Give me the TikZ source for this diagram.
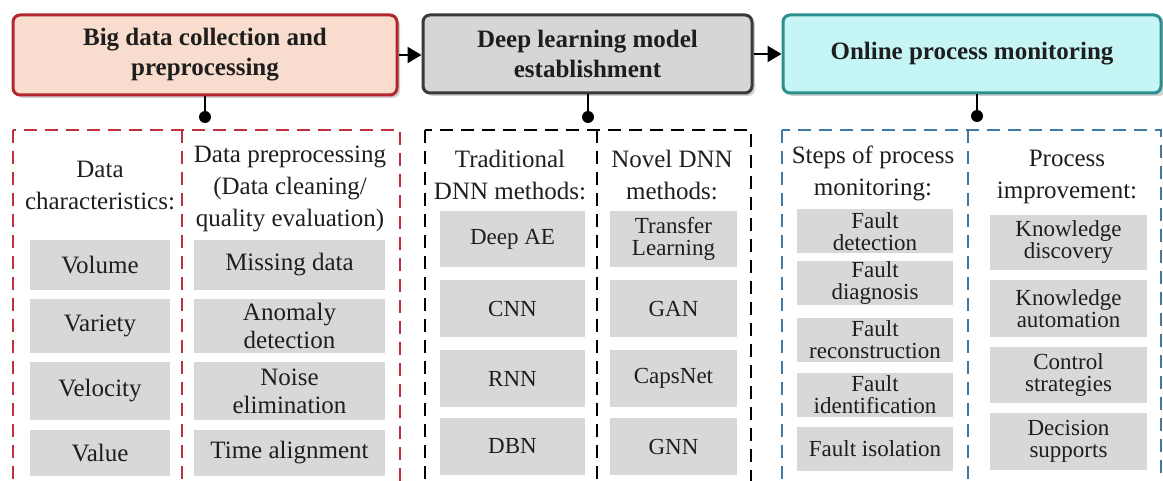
\documentclass[tikz,border=0pt]{standalone}
\usepackage{fontspec}
\setmainfont{Liberation Serif}
\usetikzlibrary{arrows.meta}
\definecolor{redb}{HTML}{B3262D}
\definecolor{redf}{HTML}{F8DCCD}
\definecolor{grayb}{HTML}{3A3A3A}
\definecolor{grayf}{HTML}{D6D6D6}
\definecolor{cyanb}{HTML}{2A8F8F}
\definecolor{cyanf}{HTML}{C6F5F5}
\definecolor{redd}{HTML}{C0303C}
\definecolor{blued}{HTML}{3F7AA6}
\definecolor{itemf}{HTML}{D8D8D8}
\definecolor{txt}{HTML}{1E1E1E}
\begin{document}
\begin{tikzpicture}[x=1pt,y=-1pt,
  title/.style={rounded corners=7pt, line width=3pt, inner sep=0pt, align=center, text=txt,
    font=\fontsize{25}{30}\selectfont\bfseries},
  shade/.style={rounded corners=7pt, fill=black, opacity=0.18},
  head/.style={inner sep=0pt, align=center, text=txt, font=\fontsize{25}{32}\selectfont},
  itemA/.style={fill=itemf, inner sep=0pt, align=center, text=txt, font=\fontsize{25}{28}\selectfont},
  itemB/.style={fill=itemf, inner sep=0pt, align=center, text=txt, font=\fontsize{23}{22}\selectfont},
  dashbox/.style={line width=2.5pt, dash pattern=on 13pt off 8pt},
  link/.style={line width=2.5pt, -{Triangle[length=14pt,width=16pt]}},
  stem/.style={line width=2pt}
]
\useasboundingbox (0,0) rectangle (1163,481);
\clip (0,0) rectangle (1163,481);

% shadows
\fill[shade] (16,18) rectangle (400,98);
\fill[shade] (426,18) rectangle (755,96);
\fill[shade] (786,18) rectangle (1166,96);

% title boxes
\node[title, draw=redb, fill=redf, minimum width=384pt, minimum height=80pt] (t1) at (205,55) {Big data collection and\\preprocessing};
\node[title, draw=grayb, fill=grayf, minimum width=329pt, minimum height=78pt] (t2) at (587.5,54) {Deep learning model\\establishment};
\node[title, draw=cyanb, fill=cyanf, minimum width=378pt, minimum height=78pt] (t3) at (972,54) {Online process monitoring};

\draw[link] (t1.east) -- (t1.east -| t2.west);
\draw[link] (t2.east) -- (t2.east -| t3.west);

% stems and dots
\coordinate (d1) at (205,117);
\coordinate (d2) at (588,117);
\coordinate (d3) at (977,116);
\draw[stem] (d1 |- t1.south) -- (d1);
\draw[stem] (d2 |- t2.south) -- (d2);
\draw[stem] (d3 |- t3.south) -- (d3);
\fill (d1) circle (6pt);
\fill (d2) circle (6pt);
\fill (d3) circle (6pt);

% dashed frames
\draw[dashbox, draw=redd] (13,130) rectangle (400,490);
\draw[dashbox, draw=redd] (182,130) -- (182,490);
\draw[dashbox, draw=black] (425,130) rectangle (751,490);
\draw[dashbox, draw=black] (597,130) -- (597,490);
\draw[dashbox, draw=blued] (782,130) rectangle (1161,490);
\draw[dashbox, draw=blued] (968,130) -- (968,490);

% red section
\node[head] (h1) at (100,185) {Data\\characteristics:};
\node[head] (h2) at (290,189) {Data preprocessing\\(Data cleaning/\\quality evaluation)};
\node[itemA, minimum width=140pt, minimum height=50pt] (a1) at (100,265) {Volume};
\node[itemA, minimum width=140pt, minimum height=54pt] (a2) at (100,326) {Variety};
\node[itemA, minimum width=140pt, minimum height=58pt] (a3) at (100,391) {Velocity};
\node[itemA, minimum width=140pt, minimum height=46pt] (a4) at (100,453) {Value};
\node[itemA, minimum width=191pt, minimum height=50pt] (b1) at (289.5,265) {Missing data};
\node[itemA, minimum width=191pt, minimum height=54pt] (b2) at (289.5,326) {Anomaly\\detection};
\node[itemA, minimum width=191pt, minimum height=58pt] (b3) at (289.5,391) {Noise\\elimination};
\node[itemA, minimum width=191pt, minimum height=46pt] (b4) at (289.5,453) {Time alignment};

% black section
\node[head] (h3) at (510,175) {Traditional\\DNN methods:};
\node[head] (h4) at (672,175) {Novel DNN\\methods:};
\node[itemB, minimum width=145pt, minimum height=56pt] (c1) at (512.5,239) {Deep AE};
\node[itemB, minimum width=145pt, minimum height=57pt] (c2) at (512.5,308.5) {CNN};
\node[itemB, minimum width=145pt, minimum height=57pt] (c3) at (512.5,378.5) {RNN};
\node[itemB, minimum width=145pt, minimum height=57pt] (c4) at (512.5,446.5) {DBN};
\node[itemB, minimum width=127pt, minimum height=56pt] (e1) at (673.5,239) {Transfer\\Learning};
\node[itemB, minimum width=127pt, minimum height=57pt] (e2) at (673.5,308.5) {GAN};
\node[itemB, minimum width=127pt, minimum height=57pt] (e3) at (673.5,378.5) {CapsNet};
\node[itemB, minimum width=127pt, minimum height=57pt] (e4) at (673.5,446.5) {GNN};

% blue section
\node[head] (h5) at (873,173) {Steps of process\\monitoring:};
\node[head] (h6) at (1067,177) {Process\\improvement:};
\node[itemB, minimum width=156pt, minimum height=44pt] (f1) at (875,231.5) {Fault\\detection};
\node[itemB, minimum width=156pt, minimum height=44pt] (f2) at (875,283.5) {Fault\\diagnosis};
\node[itemB, minimum width=156pt, minimum height=44pt] (f3) at (875,340) {Fault\\reconstruction};
\node[itemB, minimum width=156pt, minimum height=44pt] (f4) at (875,395) {Fault\\identification};
\node[itemB, minimum width=156pt, minimum height=44pt] (f5) at (875,448.5) {Fault isolation};
\node[itemB, minimum width=157pt, minimum height=55pt] (g1) at (1068.5,242.5) {Knowledge\\discovery};
\node[itemB, minimum width=157pt, minimum height=57pt] (g2) at (1068.5,308.5) {Knowledge\\automation};
\node[itemB, minimum width=157pt, minimum height=56pt] (g3) at (1068.5,375) {Control\\strategies};
\node[itemB, minimum width=157pt, minimum height=57pt] (g4) at (1068.5,441.5) {Decision\\supports};
\end{tikzpicture}
\end{document}
